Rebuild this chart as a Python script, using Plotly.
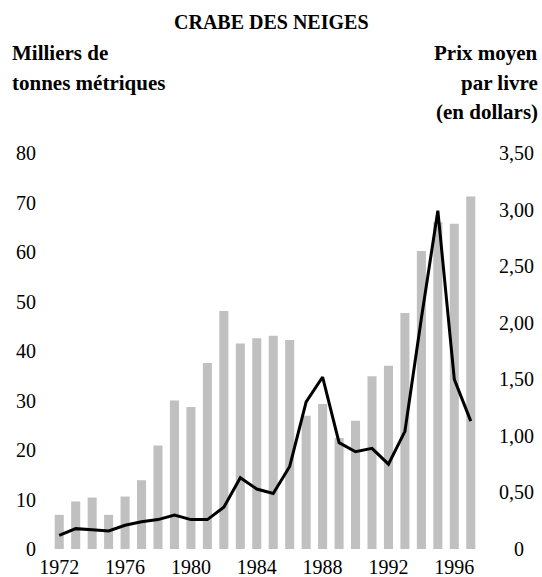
import plotly.graph_objects as go

years = list(range(1972, 1998))
tonnes = [6.9, 9.6, 10.4, 6.9, 10.6, 13.9, 20.9, 30.0, 28.7, 37.6, 48.1, 41.5, 42.6, 43.1,
          42.2, 26.9, 29.3, 22.4, 25.9, 34.9, 37.0, 47.7, 60.2, 66.0, 65.7, 71.2]
prix = [0.12, 0.18, 0.17, 0.16, 0.21, 0.24, 0.26, 0.30, 0.26, 0.26, 0.37, 0.63, 0.53, 0.49,
        0.73, 1.30, 1.52, 0.94, 0.86, 0.89, 0.75, 1.04, 2.04, 2.99, 1.50, 1.13]
left_ticks = [0, 10, 20, 30, 40, 50, 60, 70, 80]
right_ticks = [0, 0.5, 1.0, 1.5, 2.0, 2.5, 3.0, 3.5]
right_labels = ["\u2007\u20080", "0,50", "1,00", "1,50", "2,00", "2,50", "3,00", "3,50"]
x_ticks = [1972, 1976, 1980, 1984, 1988, 1992, 1996]

FONT = "Liberation Serif"

fig = go.Figure()
fig.add_trace(go.Bar(x=years, y=tonnes, marker_color="#c0c0c0", marker_line_width=0,
                     width=0.55, yaxis="y"))
fig.add_trace(go.Scatter(x=years, y=prix, mode="lines", line=dict(color="black", width=3),
                         yaxis="y2"))

H = 577
top, bottom = 153, 28
plot_h = H - top - bottom

def py(ypx):
    return (H - bottom - ypx) / plot_h

annos = [
    dict(text="<b>Milliers de</b>", x=10, y=53, xanchor="left", size=21),
    dict(text="<b>tonnes métriques</b>", x=10, y=83, xanchor="left", size=21),
    dict(text="<b>Prix moyen</b>", x=540, y=53, xanchor="right", size=21),
    dict(text="<b>par livre</b>", x=540, y=83, xanchor="right", size=21),
    dict(text="<b>(en dollars)</b>", x=540, y=112, xanchor="right", size=21),
    dict(text="<b>CRABE DES NEIGES</b>", x=271, y=22, xanchor="center", size=20),
]
L, R = 51, 63
plot_w = 542 - L - R
annotations = []
for a in annos:
    annotations.append(dict(text=a["text"], xref="paper", yref="paper",
                            x=(a["x"] - L) / plot_w, y=py(a["y"]), xanchor=a["xanchor"],
                            yanchor="middle", showarrow=False,
                            font=dict(family=FONT, size=a["size"], color="black")))

fig.update_layout(
    width=542, height=577,
    margin=dict(l=L, r=R, t=top, b=bottom, pad=0),
    paper_bgcolor="white", plot_bgcolor="white",
    showlegend=False,
    font=dict(family=FONT, size=20, color="black"),
    xaxis=dict(range=[1971.5, 1997.5], tickvals=x_ticks, ticktext=[str(v) for v in x_ticks],
               showgrid=False, zeroline=False, showline=False, ticks="", ticklabelstandoff=4,
               automargin=False),
    yaxis=dict(range=[0, 80], tickvals=left_ticks, showgrid=False, zeroline=False,
               showline=False, ticks="", ticklabelstandoff=14, automargin=False),
    yaxis2=dict(range=[0, 3.5], tickvals=right_ticks, ticktext=right_labels, overlaying="y",
                side="right", showgrid=False, zeroline=False, showline=False, ticks="",
                ticklabelstandoff=19, automargin=False),
    annotations=annotations,
)

fig.write_html("out.html", config={"displayModeBar": False},
               post_script="document.body.style.margin='0';document.body.style.overflow='hidden';")
